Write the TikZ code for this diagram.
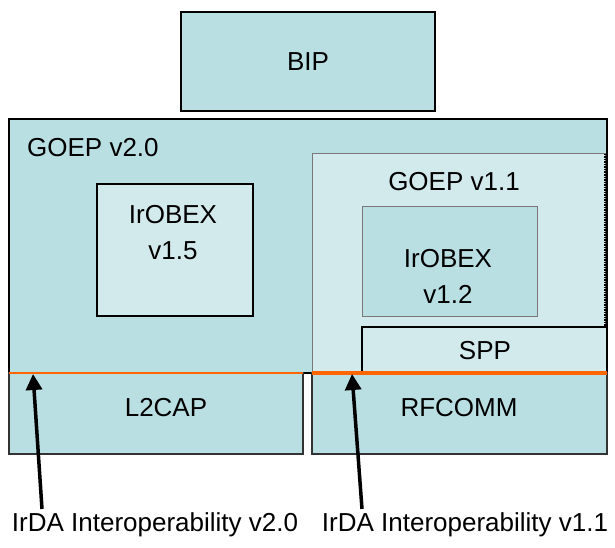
\documentclass[tikz,border=0pt]{standalone}
\usepackage{fontspec}
\setmainfont{Liberation Sans}
\usetikzlibrary{arrows.meta}
\definecolor{tealmid}{RGB}{185,223,227}
\definecolor{teallight}{RGB}{211,234,237}
\definecolor{orangeline}{RGB}{255,102,0}
\definecolor{edgegray}{RGB}{120,120,120}
\begin{document}
\begin{tikzpicture}[x=1pt,y=-1pt,
  box/.style={draw=black, line width=1.5pt, anchor=north west, inner sep=0pt, outer sep=0pt},
  midbox/.style={box, fill=tealmid},
  lightbox/.style={box, fill=teallight},
  txt/.style={font=\fontsize{26}{36}\selectfont, align=center, inner sep=0pt},
  orangebar/.style={draw=orangeline},
  pointer/.style={line width=3.5pt, -{Triangle[length=16pt,width=16pt]}}
]
\useasboundingbox (0,0) rectangle (615,548);
% boxes
\node[midbox, line width=2.2pt, minimum width=598pt, minimum height=254pt] (goep2) at (9,119) {};
\node[lightbox, draw=edgegray, line width=1pt, minimum width=293pt, minimum height=219pt] (goep11) at (312,154) {};
\draw[line width=1.5pt, black, densely dotted] (goep11.north east) -- (goep11.south east);
\node[lightbox, minimum width=156pt, minimum height=132pt] (obex15) at (97,184) {};
\node[midbox, draw=edgegray, line width=1pt, minimum width=175pt, minimum height=110pt] (obex12) at (362,206) {};
\node[lightbox, minimum width=245pt, minimum height=46pt] (spp) at (362,327) {};
\node[midbox, draw=black!80, minimum width=294pt, minimum height=81pt] (l2cap) at (9,373) {};
\node[midbox, draw=black!80, minimum width=295pt, minimum height=81pt] (rfcomm) at (312,373) {};
\node[midbox, minimum width=254pt, minimum height=99pt] (bip) at (181,12) {};
% texts
\node[txt] (tbip) at (bip.center) {BIP};
\node[txt, anchor=west] (tgoep2) at (27,148) {GOEP v2.0};
\node[txt] (tobex15) at (173,233) {IrOBEX\\v1.5};
\node[txt] (tgoep11) at (454,182) {GOEP v1.1};
\node[txt] (tobex12) at (448,276) {IrOBEX\\v1.2};
\node[txt] (tspp) at (485,351) {SPP};
\node[txt] (tl2cap) at (166,408) {L2CAP};
\node[txt] (trfcomm) at (459,408) {RFCOMM};
\node[txt] (lab1) at (155,525) {IrDA Interoperability v2.0};
\node[txt] (lab2) at (465,525) {IrDA Interoperability v1.1};
% orange lines
\coordinate (o1a) at (9,373);
\coordinate (o1b) at (303,373);
\coordinate (o2a) at (312,373);
\coordinate (o2b) at (607,373);
\draw[orangebar, line width=2.5pt] (o1a) -- (o1b);
\draw[orangebar, line width=4pt] (o2a) -- (o2b);
% arrows
\coordinate (a1s) at (42,509);
\coordinate (a1e) at (33,374);
\coordinate (a2s) at (362,509);
\coordinate (a2e) at (352,374);
\draw[pointer] (a1s) -- (a1e);
\draw[pointer] (a2s) -- (a2e);
\end{tikzpicture}
\end{document}
